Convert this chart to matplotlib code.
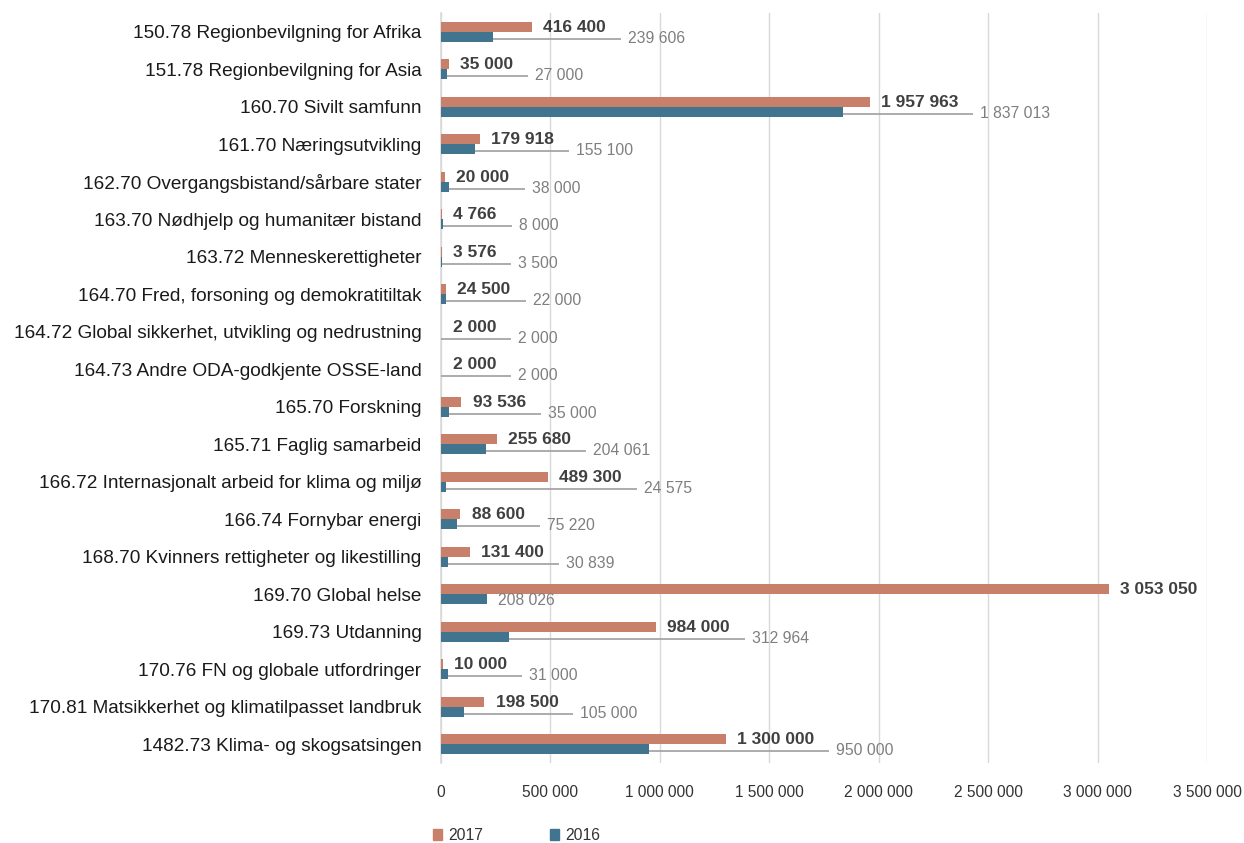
import matplotlib
matplotlib.use('Agg')
import matplotlib.pyplot as plt
from matplotlib.patches import Patch

categories = [
    "150.78 Regionbevilgning for Afrika",
    "151.78 Regionbevilgning for Asia",
    "160.70 Sivilt samfunn",
    "161.70 Næringsutvikling",
    "162.70 Overgangsbistand/sårbare stater",
    "163.70 Nødhjelp og humanitær bistand",
    "163.72 Menneskerettigheter",
    "164.70 Fred, forsoning og demokratitiltak",
    "164.72 Global sikkerhet, utvikling og nedrustning",
    "164.73 Andre ODA-godkjente OSSE-land",
    "165.70 Forskning",
    "165.71 Faglig samarbeid",
    "166.72 Internasjonalt arbeid for klima og miljø",
    "166.74 Fornybar energi",
    "168.70 Kvinners rettigheter og likestilling",
    "169.70 Global helse",
    "169.73 Utdanning",
    "170.76 FN og globale utfordringer",
    "170.81 Matsikkerhet og klimatilpasset landbruk",
    "1482.73 Klima- og skogsatsingen",
]
v2017 = [416400, 35000, 1957963, 179918, 20000, 4766, 3576, 24500, 2000, 2000,
         93536, 255680, 489300, 88600, 131400, 3053050, 984000, 10000, 198500, 1300000]
v2016 = [239606, 27000, 1837013, 155100, 38000, 8000, 3500, 22000, 2000, 2000,
         35000, 204061, 24575, 75220, 30839, 208026, 312964, 31000, 105000, 950000]
xticks = [0, 500000, 1000000, 1500000, 2000000, 2500000, 3000000, 3500000]

plt.rcParams['font.family'] = ['Liberation Sans', 'DejaVu Sans']

c17 = '#C8806A'
c16 = '#41748F'


def fmt(v):
    return f"{int(v):,}".replace(',', ' ')


fig = plt.figure(figsize=(12.44, 8.43), dpi=100)
ax = fig.add_axes([441 / 1244, 1 - 763 / 843, 766 / 1244, 750 / 843])

n = len(categories)
h = 0.267
ys = list(range(n))
ax.barh([i - h / 2 for i in ys], v2017, height=h, color=c17, zorder=3)
ax.barh([i + h / 2 for i in ys], v2016, height=h, color=c16, zorder=3)
ax.set_ylim(n - 0.5, -0.5)
ax.set_xlim(0, 3500000)

ax.set_yticks(ys)
ax.set_yticklabels(categories, fontsize=13.7, color='#1A1A1A')
ax.set_xticks(xticks)
ax.set_xticklabels([fmt(t) for t in xticks], fontsize=11.2, color='#333333')
ax.tick_params(axis='both', length=0)
ax.tick_params(axis='x', pad=16)
ax.tick_params(axis='y', pad=14)
ax.grid(axis='x', color='#D9D9D9', linewidth=1, zorder=0)
for s in ['top', 'right', 'bottom']:
    ax.spines[s].set_visible(False)
ax.spines['left'].set_color('#D9D9D9')
ax.spines['left'].set_linewidth(1.2)

# 2017 labels at the bar end
t17 = []
for i in ys:
    t = ax.annotate(fmt(v2017[i]), (v2017[i], i - h / 2), xytext=(8, -0.5),
                    textcoords='offset points', va='center', ha='left',
                    fontsize=12.5, fontweight='bold', color='#404040', zorder=5)
    t17.append(t)

fig.canvas.draw()
r = fig.canvas.get_renderer()
inv = ax.transData.inverted()

# 2016 labels pushed right of the 2017 label, with a leader line
for i in ys:
    bb = t17[i].get_window_extent(r)
    bx, by = ax.transData.transform((v2016[i], i + h / 2))
    if bb.x0 - bx > 300:
        lx = bx + 11
        lead = False
    else:
        lx = bb.x1 + 22
        lead = True
    ly = by - 1.5
    x_lab, y_lab = inv.transform((lx, ly))
    ax.text(x_lab, y_lab, fmt(v2016[i]), va='center', ha='left',
            fontsize=11.3, color='#7F7F7F', zorder=5)
    if lead:
        (x0, y0) = inv.transform((bx, by - 2))
        (x1, y1) = inv.transform((lx - 7, by - 2))
        ax.plot([x0, x1], [y0, y1], color='#A6A6A6', linewidth=1.3, zorder=4,
                solid_capstyle='butt')

handles = [Patch(color=c17, label='2017'), Patch(color=c16, label='2016')]
fig.legend(handles=handles, loc='center left', bbox_to_anchor=(433 / 1244, 1 - 835 / 843),
           ncol=2, frameon=False, fontsize=11.3, handlelength=0.55, handleheight=0.7,
           handletextpad=0.4, columnspacing=4.3, borderpad=0, borderaxespad=0,
           labelcolor='#333333')

plt.savefig('out.png', dpi=100)
